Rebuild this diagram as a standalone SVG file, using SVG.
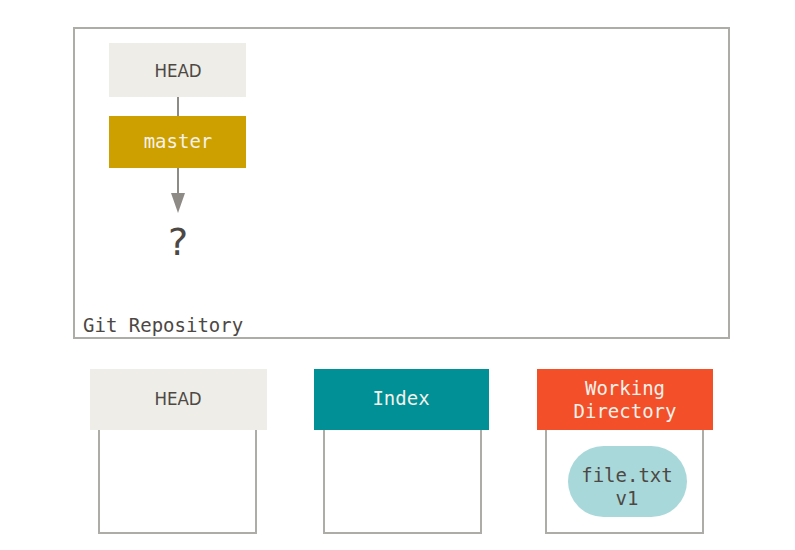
<svg xmlns="http://www.w3.org/2000/svg" width="795" height="550" viewBox="0 0 795 550">
<defs>
<style>
.frame{fill:#fff;stroke:#aeaca6;stroke-width:2}
.sans{font-family:"DejaVu Sans Condensed","Liberation Sans Narrow",sans-serif;font-size:18.5px;fill:#4d4843;text-anchor:middle}
.mono{font-family:"DejaVu Sans Mono","Liberation Mono",monospace;font-size:19px;text-anchor:middle}
.dark{fill:#4d4843}
.light{fill:#f3f1ea}
.conn{stroke:#8e8b86;stroke-width:2;fill:none}
</style>
</defs>
<rect width="795" height="550" fill="#fff"/>
<g id="repository">
<rect class="frame" x="74" y="28" width="655" height="310"/>
<text class="mono dark" x="83" y="332" style="text-anchor:start">Git Repository</text>
</g>
<g id="connectors">
<line class="conn" x1="178" y1="97" x2="178" y2="116"/>
<line class="conn" x1="178" y1="168" x2="178" y2="193"/>
<path d="M171,193 L185,193 L178,213 Z" fill="#8e8b86"/>
</g>
<g id="head-ref">
<rect x="109" y="43" width="137" height="54" fill="#eeede7"/>
<text class="sans" x="178" y="77">HEAD</text>
</g>
<g id="master">
<rect x="109" y="116" width="137" height="52" fill="#cda000"/>
<text class="mono light" x="178" y="148">master</text>
</g>
<g id="unknown">
<text class="sans" x="178" y="255" style="font-size:38px;font-family:'DejaVu Sans',sans-serif">?</text>
</g>
<g id="head-tree">
<rect class="frame" x="99" y="420" width="157" height="113"/>
<rect x="90" y="369" width="177" height="61" fill="#eeede7"/>
<text class="sans" x="178" y="405">HEAD</text>
</g>
<g id="index">
<rect class="frame" x="324" y="420" width="157" height="113"/>
<rect x="314" y="369" width="175" height="61" fill="#009095"/>
<text class="mono light" x="401" y="405">Index</text>
</g>
<g id="working-directory">
<rect class="frame" x="546" y="420" width="157" height="113"/>
<rect x="537" y="369" width="176" height="61" fill="#f34f29"/>
<text class="mono light" x="625" y="395">Working</text>
<text class="mono light" x="625" y="418">Directory</text>
<g id="file-v1">
<rect x="568" y="446" width="119" height="71" rx="35.5" fill="#a9d8db"/>
<text class="mono dark" x="627" y="482">file.txt</text>
<text class="mono dark" x="627" y="505">v1</text>
</g>
</g>
</svg>
